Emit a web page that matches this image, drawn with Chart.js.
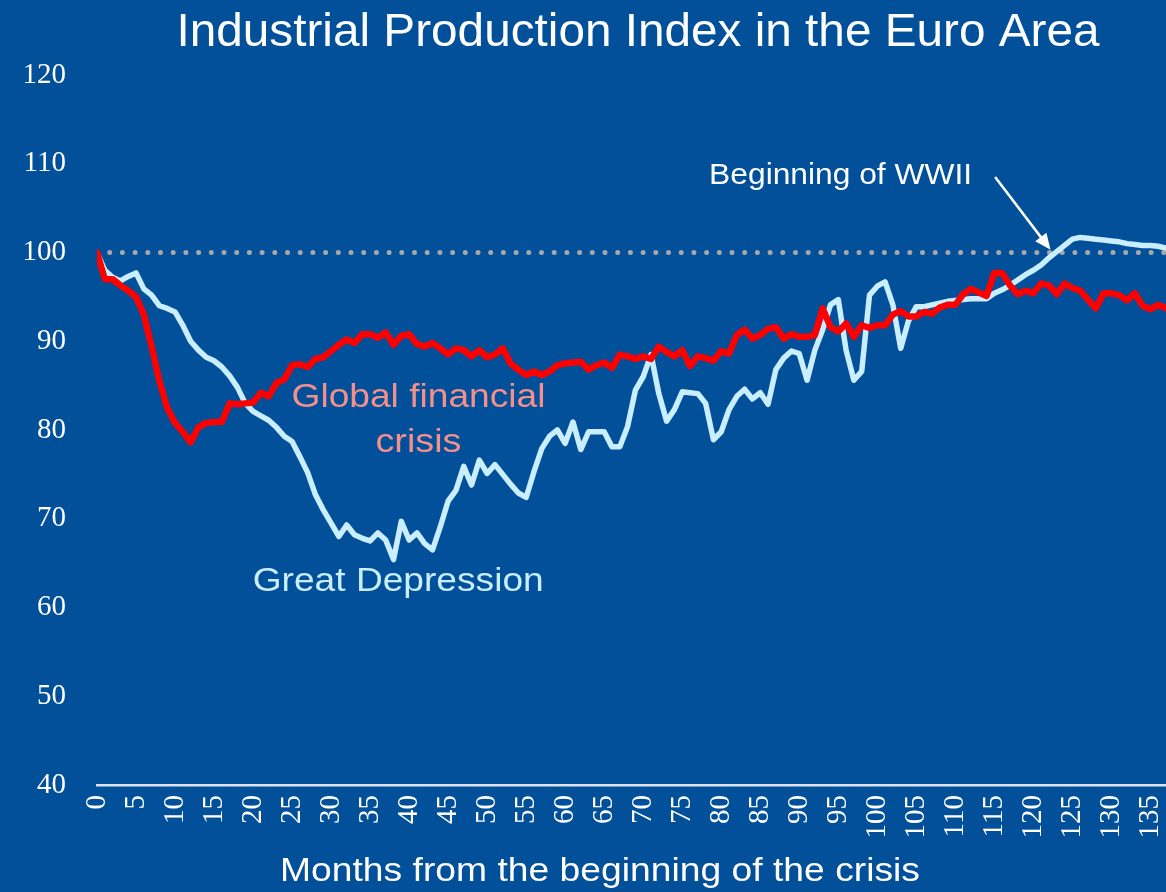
<!DOCTYPE html>
<html>
<head>
<meta charset="utf-8">
<script src="https://cdn.jsdelivr.net/npm/chart.js@4.4.0/dist/chart.umd.min.js"></script>
<style>
body{margin:0;background:#024f9a;}
#wrap{width:1166px;height:892px;}
</style>
</head>
<body>
<div id="wrap"><canvas id="ipi"></canvas></div>
<script>
// months 0..137 from the beginning of each crisis
var greatDepression = [100,98,97.2,96.8,97.3,97.7,95.9,95.2,94,93.7,
93.3,91.8,90,89,88.2,87.8,87.1,86.1,84.8,83,
82.1,81.6,81.1,80.3,79.3,78.7,77,75.2,72.7,71,
69.5,68,69.3,68.2,67.8,67.5,68.4,67.6,65.4,69.7,
67.6,68.4,67.2,66.5,69.1,72,73.2,75.9,73.8,76.6,
75.1,76.1,75,73.9,72.9,72.4,75.3,77.9,79.3,80,
78.5,80.9,77.8,79.8,79.8,79.8,78.1,78.1,80.4,84.5,
86,88.5,84.1,81,82.3,84.3,84.2,84.1,83,78.9,
79.8,82.3,83.8,84.6,83.5,84.2,82.9,86.8,88.1,88.9,
88.6,85.6,89,91.3,94.1,94.7,89,85.6,86.6,95.2,
96.2,96.7,94.1,89.2,92.3,93.9,93.9,94.1,94.3,94.5,
94.6,94.7,94.8,94.8,94.8,95.4,95.8,96.3,96.9,97.5,
98,98.6,99.4,100.1,100.8,101.5,101.7,101.6,101.5,101.4,
101.3,101.2,101,100.9,100.8,100.8,100.7,100.5];

var globalCrisis = [100,97,97,96.3,95.7,95,93,89.4,85.5,82.5,
80.8,79.8,78.6,80.3,80.8,80.9,80.9,83,82.9,83,
83.1,84.2,83.8,85.3,85.7,87.3,87.4,87.1,88,88.2,
88.9,89.6,90.2,89.8,90.8,90.8,90.4,91,89.6,90.6,
90.8,89.7,89.4,89.8,89.2,88.5,89.2,89,88.3,89,
88.2,88.5,89.2,87.5,86.8,86.2,86.6,86.2,86.6,87.3,
87.5,87.6,87.7,86.8,87.3,87.6,87,88.5,88.3,88,
88.3,88,89.4,88.8,88.3,89,87.2,88.3,88.1,87.8,
88.9,88.6,90.7,91.3,90.3,90.7,91.4,91.6,90.3,90.8,
90.5,90.5,90.7,93.7,91.6,91.1,92,90.5,91.8,91.5,
91.8,91.8,93,93.4,92.8,92.8,93.3,93.1,93.8,94.1,
94.1,95.3,95.9,95.5,95.1,97.7,97.7,96.3,95.3,95.7,
95.4,96.5,96.3,95.3,96.5,96,95.7,94.7,93.7,95.4,
95.4,95.2,94.6,95.4,94,93.6,94.1,93.7];

var baseMonths = [0, 137];
var baseLevel = [100, 100];

var bg = '#024f9a';
var sans = 'Arial, "Liberation Sans", sans-serif';
var serif = '"Times New Roman", "Liberation Serif", serif';

function pts(arr){ return arr.map(function(v,i){ return {x:i, y:v}; }); }

// text squeezed/stretched to a given width
function fitText(ctx, txt, cx, cy, size, w, color){
  ctx.save();
  ctx.font = size + 'px ' + sans;
  var m = ctx.measureText(txt).width;
  ctx.translate(cx, cy);
  ctx.scale(w / m, 1);
  ctx.fillStyle = color;
  ctx.textAlign = 'center';
  ctx.textBaseline = 'middle';
  ctx.fillText(txt, 0, 0);
  ctx.restore();
}

var deco = {
  id: 'deco',
  beforeDraw: function(chart){
    var c = chart.ctx;
    c.save();
    c.fillStyle = bg;
    c.fillRect(0, 0, chart.width, chart.height);
    c.restore();
  },
  afterDraw: function(chart){
    var c = chart.ctx, xs = chart.scales.x, ys = chart.scales.y;
    fitText(c, 'Industrial Production Index in the Euro Area', 638, 33, 46, 923, '#ffffff');
    fitText(c, 'Months from the beginning of the crisis', 600, 872, 33, 640, '#ffffff');
    fitText(c, 'Global financial', xs.getPixelForValue(41.2), ys.getPixelForValue(83.6), 34, 254, '#f4908c');
    fitText(c, 'crisis', xs.getPixelForValue(41.2), ys.getPixelForValue(78.6), 34, 86, '#f4908c');
    fitText(c, 'Great Depression', xs.getPixelForValue(38.6), ys.getPixelForValue(62.9), 34, 291, '#c8eeff');
    fitText(c, 'Beginning of WWII', xs.getPixelForValue(95.3), ys.getPixelForValue(108.7), 30, 263, '#ffffff');

    // arrow to the start of WWII
    var x1 = xs.getPixelForValue(115.1), y1 = ys.getPixelForValue(108.5);
    var x2 = xs.getPixelForValue(122.2), y2 = ys.getPixelForValue(100.3);
    var a = Math.atan2(y2 - y1, x2 - x1);
    c.save();
    c.strokeStyle = '#ffffff';
    c.fillStyle = '#ffffff';
    c.lineWidth = 2.5;
    c.beginPath();
    c.moveTo(x1, y1);
    c.lineTo(x2 - 10 * Math.cos(a), y2 - 10 * Math.sin(a));
    c.stroke();
    c.beginPath();
    c.moveTo(x2, y2);
    c.lineTo(x2 - 16 * Math.cos(a) + 7 * Math.sin(a), y2 - 16 * Math.sin(a) - 7 * Math.cos(a));
    c.lineTo(x2 - 16 * Math.cos(a) - 7 * Math.sin(a), y2 - 16 * Math.sin(a) + 7 * Math.cos(a));
    c.closePath();
    c.fill();
    c.restore();
  }
};

var ctx = document.getElementById('ipi').getContext('2d');
var chart = new Chart(ctx, {
  type: 'line',
  data: {
    datasets: [{
      label: 'Global financial crisis',
      data: pts(globalCrisis),
      borderColor: '#ff0000',
      borderWidth: 6.5,
      order: 1
    }, {
      label: 'Great Depression',
      data: pts(greatDepression),
      borderColor: '#c8eeff',
      borderWidth: 5.5,
      order: 2
    }, {
      label: '100',
      data: baseMonths.map(function(m,i){ return {x:m, y:baseLevel[i]}; }),
      borderColor: '#a8a8a8',
      borderWidth: 5,
      borderDash: [0, 12.7],
      borderCapStyle: 'round',
      order: 3
    }]
  },
  options: {
    responsive: true,
    maintainAspectRatio: false,
    animation: false,
    devicePixelRatio: 1,
    layout: {padding: {top: 75, right: 0, bottom: 0, left: 0}},
    elements: {
      line: {tension: 0, borderJoinStyle: 'round', borderCapStyle: 'round'},
      point: {radius: 0}
    },
    plugins: {
      legend: {display: false},
      tooltip: {enabled: false}
    },
    scales: {
      x: {
        type: 'linear',
        min: 0,
        max: 137,
        grid: {display: false, drawTicks: false},
        border: {display: true, color: '#dde3ea', width: 2.5},
        ticks: {
          stepSize: 5,
          includeBounds: false,
          autoSkip: false,
          minRotation: 90,
          maxRotation: 90,
          padding: 10,
          color: '#ffffff',
          font: {family: serif, size: 29}
        },
        afterFit: function(s){ s.height = 107; s.paddingLeft = 0; s.paddingRight = 0; }
      },
      y: {
        min: 40,
        max: 120,
        grid: {display: false, drawTicks: false},
        border: {display: false},
        ticks: {
          stepSize: 10,
          padding: 31,
          color: '#ffffff',
          font: {family: serif, size: 29}
        },
        afterFit: function(s){ s.width = 97; }
      }
    }
  },
  plugins: [deco]
});
</script>
</body>
</html>
